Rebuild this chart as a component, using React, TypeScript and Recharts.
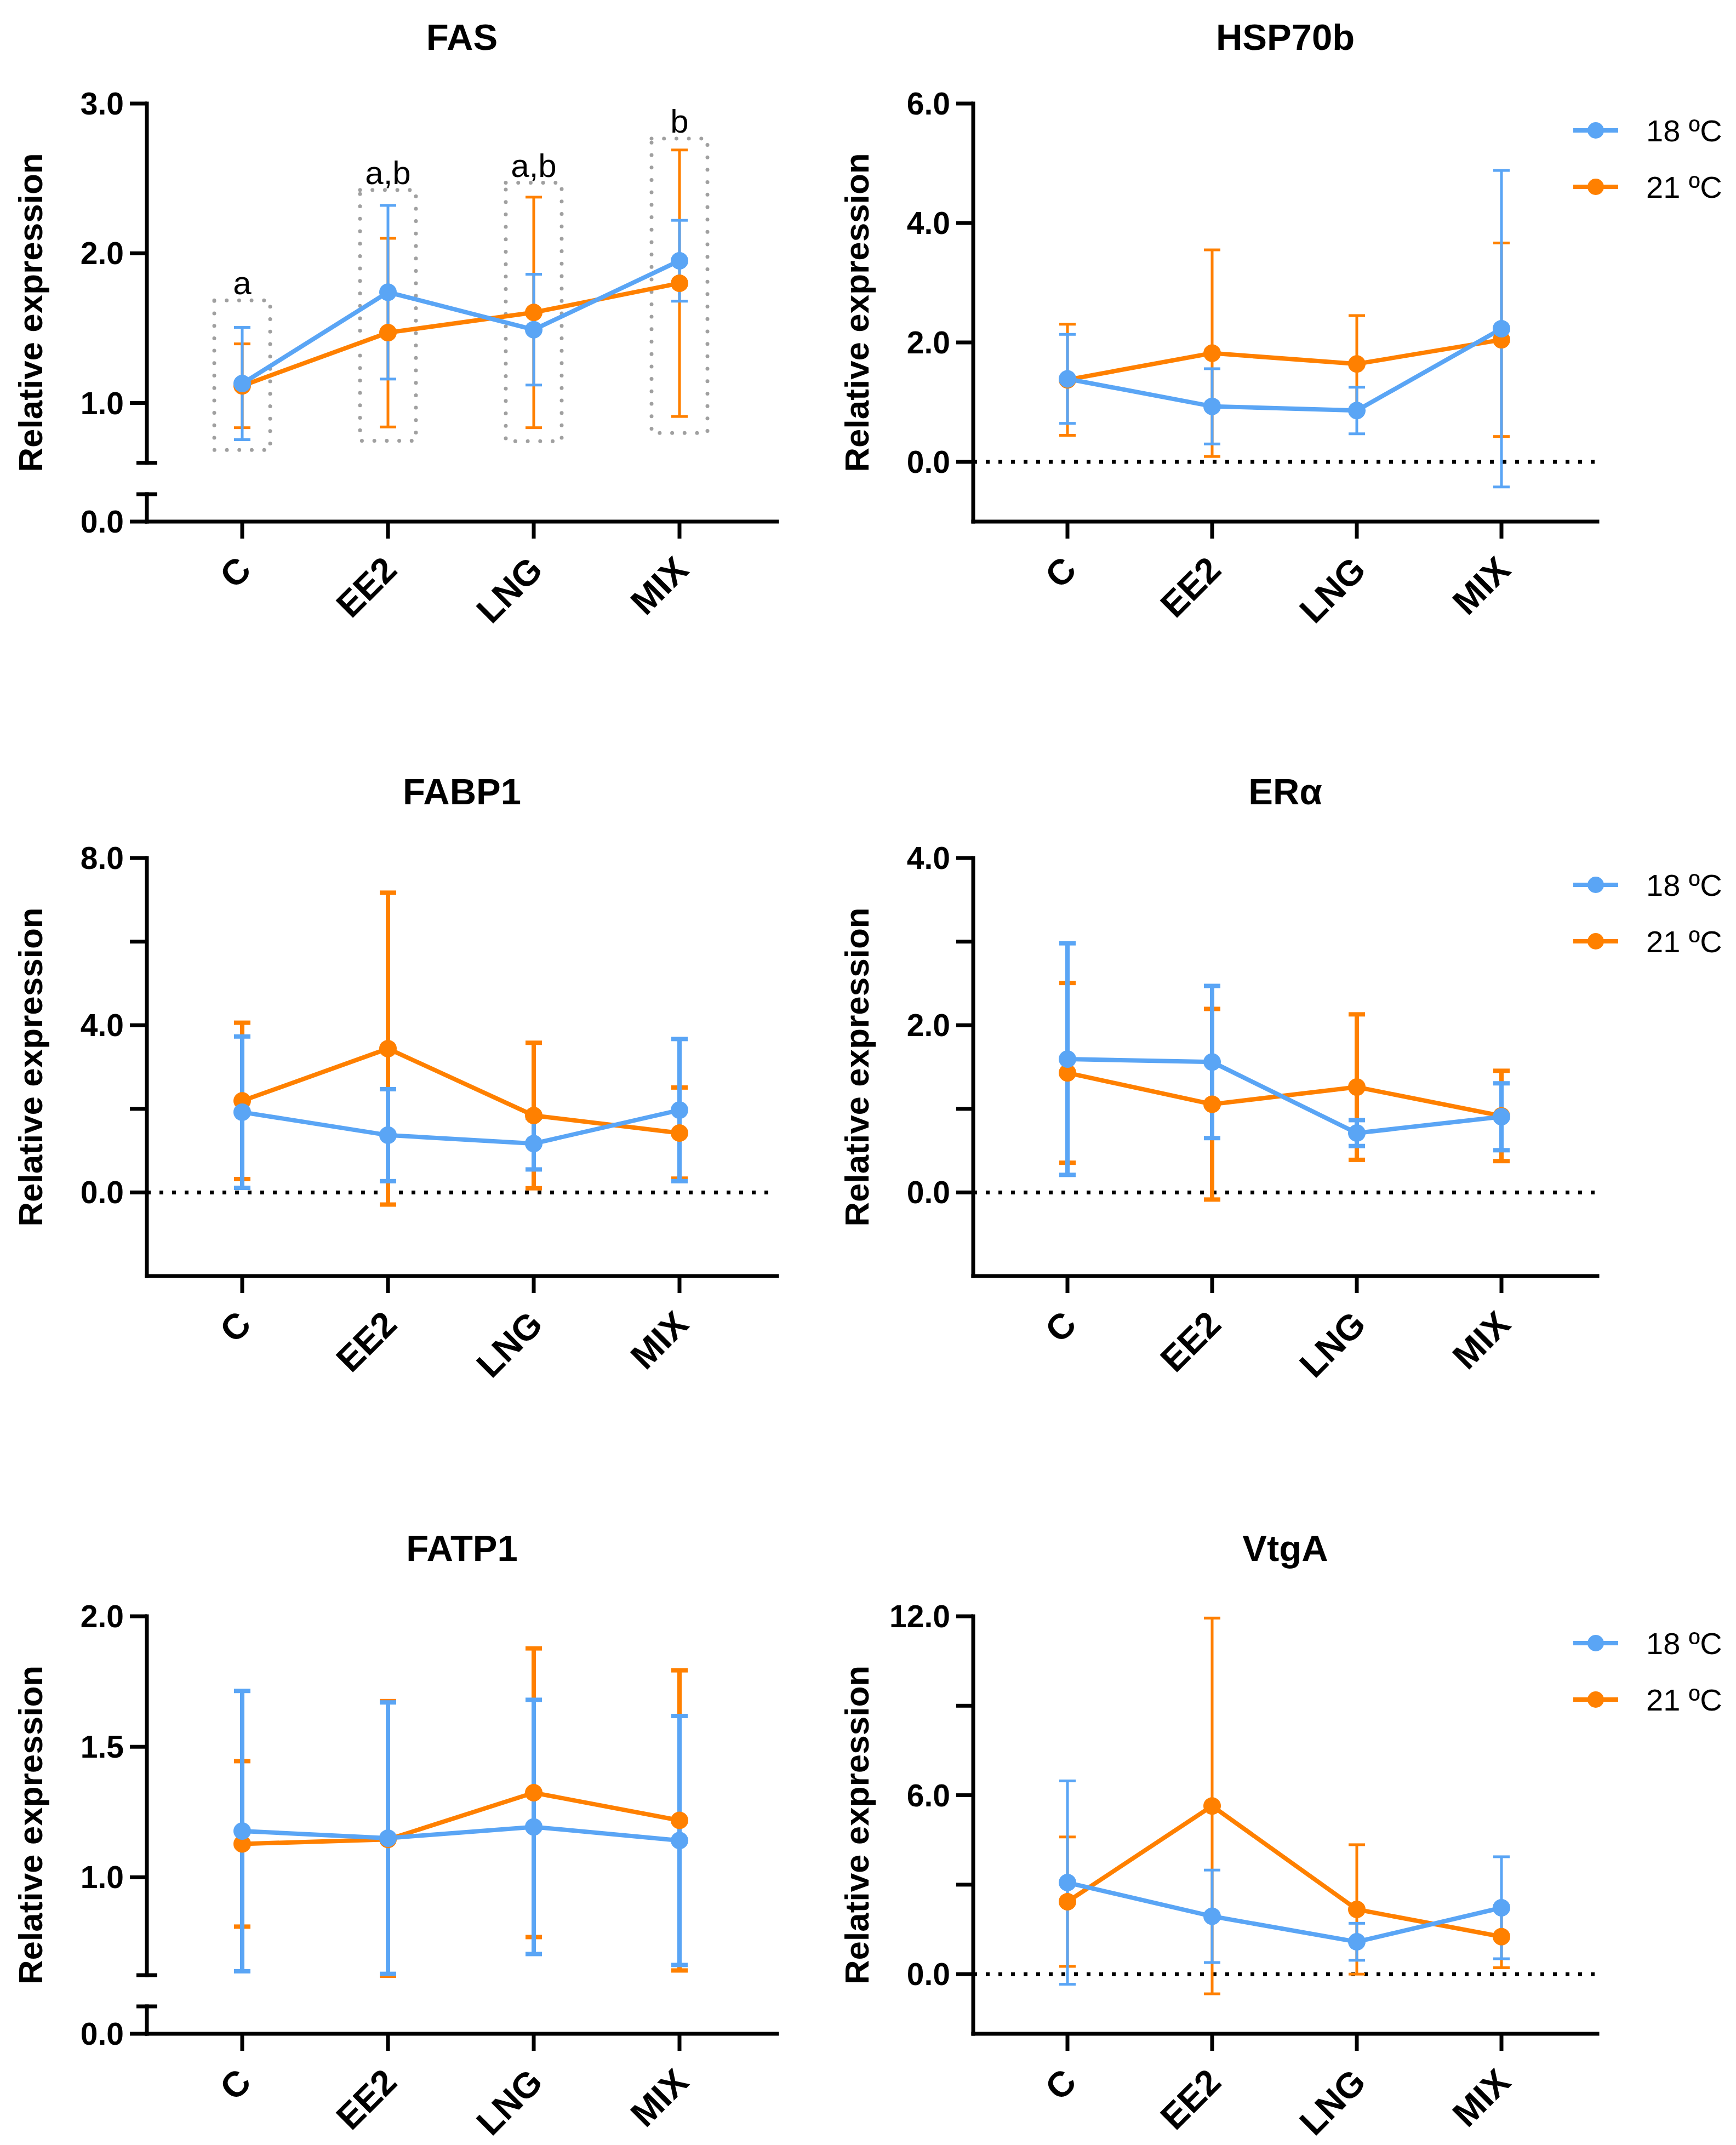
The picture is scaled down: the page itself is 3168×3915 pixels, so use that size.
import React from 'react';
import { LineChart, Line, XAxis, YAxis, ErrorBar, ReferenceLine, ReferenceArea, Legend } from 'recharts';

// ---------- data ----------
const categories = ['C', 'EE2', 'LNG', 'MIX'];
const seriesNames = ['18 ºC', '21 ºC'];

const fas18 = [1.13, 1.74, 1.49, 1.95];
const fas18Sd = [0.375, 0.58, 0.37, 0.27];
const fas21 = [1.115, 1.47, 1.605, 1.8];
const fas21Sd = [0.28, 0.63, 0.77, 0.89];
const fasLetters = ['a', 'a,b', 'a,b', 'b'];
const fasBoxLow = [0.686, 0.748, 0.745, 0.8];
const fasBoxHigh = [1.685, 2.423, 2.471, 2.766];

const hsp18 = [1.39, 0.93, 0.86, 2.23];
const hsp18Sd = [0.745, 0.63, 0.39, 2.65];
const hsp21 = [1.375, 1.82, 1.64, 2.045];
const hsp21Sd = [0.93, 1.73, 0.81, 1.62];

const fabp18 = [1.92, 1.37, 1.17, 1.97];
const fabp18Sd = [1.81, 1.1, 0.62, 1.7];
const fabp21 = [2.19, 3.44, 1.84, 1.42];
const fabp21Sd = [1.87, 3.73, 1.74, 1.09];

const era18 = [1.595, 1.56, 0.71, 0.905];
const era18Sd = [1.385, 0.91, 0.155, 0.4];
const era21 = [1.43, 1.055, 1.26, 0.915];
const era21Sd = [1.075, 1.14, 0.87, 0.54];

const fatp18 = [1.177, 1.15, 1.193, 1.141];
const fatp18Sd = [0.537, 0.52, 0.487, 0.477];
const fatp21 = [1.128, 1.145, 1.324, 1.218];
const fatp21Sd = [0.317, 0.53, 0.553, 0.575];

const vtg18 = [3.07, 1.94, 1.085, 2.226];
const vtg18Sd = [3.41, 1.55, 0.62, 1.71];
const vtg21 = [2.43, 5.64, 2.17, 1.256];
const vtg21Sd = [2.17, 6.3, 2.17, 1.04];

// ---------- style / layout ----------
const BLUE = '#5AA5F5';
const ORANGE = '#FF8000';
const FONT = '"Liberation Sans", Arial, sans-serif';
const AXIS_W = 7;
const TOP_M = 150;
const XAXIS_H = 250;
const BREAK_FRACS = [0, 0.0656, 0.1404, 1];

const COLS = [
  { x0: 0, w: 1500, axisX: 268, plotRight: 1418, padL: 174, padR: 178 },
  { x0: 1500, w: 1668, axisX: 1776, plotRight: 2915, padL: 172, padR: 175 },
];
const ROWS = [
  { plotTop: 189, plotBottom: 952, titleY: 68 },
  { plotTop: 1566, plotBottom: 2329, titleY: 1445 },
  { plotTop: 2950, plotBottom: 3712, titleY: 2826 },
];

const panels = [
  { title: 'FAS', col: 0, row: 0, s18: fas18, s18Sd: fas18Sd, s21: fas21, s21Sd: fas21Sd, domain: [0, 3], major: [0, 1, 2, 3], minor: [] as number[], knots: [0, 0.18, 0.6, 3], errW: 5, legend: false, zero: false, boxes: true },
  { title: 'HSP70b', col: 1, row: 0, s18: hsp18, s18Sd: hsp18Sd, s21: hsp21, s21Sd: hsp21Sd, domain: [-1, 6], major: [0, 2, 4, 6], minor: [] as number[], knots: null, errW: 5, legend: true, zero: true, boxes: false },
  { title: 'FABP1', col: 0, row: 1, s18: fabp18, s18Sd: fabp18Sd, s21: fabp21, s21Sd: fabp21Sd, domain: [-2, 8], major: [0, 4, 8], minor: [2, 6], knots: null, errW: 8, legend: false, zero: true, boxes: false },
  { title: 'ERα', col: 1, row: 1, s18: era18, s18Sd: era18Sd, s21: era21, s21Sd: era21Sd, domain: [-1, 4], major: [0, 2, 4], minor: [1, 3], knots: null, errW: 8, legend: true, zero: true, boxes: false },
  { title: 'FATP1', col: 0, row: 2, s18: fatp18, s18Sd: fatp18Sd, s21: fatp21, s21Sd: fatp21Sd, domain: [0, 2], major: [0, 1, 1.5, 2], minor: [] as number[], knots: [0, 0.105, 0.625, 2], errW: 8, legend: false, zero: false, boxes: false },
  { title: 'VtgA', col: 1, row: 2, s18: vtg18, s18Sd: vtg18Sd, s21: vtg21, s21Sd: vtg21Sd, domain: [-2, 12], major: [0, 6, 12], minor: [3, 9], knots: null, errW: 5, legend: true, zero: true, boxes: false },
];

// piecewise-linear (broken) axis scale
function brokenScale(knots: number[], fracs: number[]): any {
  let dom: number[] = [knots[0], knots[knots.length - 1]];
  let rng: number[] = [0, 1];
  const toFrac = (v: number) => {
    const n = knots.length;
    let i = 0;
    while (i < n - 2 && v > knots[i + 1]) i++;
    const t = (v - knots[i]) / (knots[i + 1] - knots[i]);
    return fracs[i] + t * (fracs[i + 1] - fracs[i]);
  };
  const s: any = (v: any) => rng[0] + toFrac(Number(v)) * (rng[1] - rng[0]);
  s.domain = (d?: any[]) => {
    if (d === undefined) return dom.slice();
    dom = d.map(Number);
    return s;
  };
  s.range = (r?: any[]) => {
    if (r === undefined) return rng.slice();
    rng = r.map(Number);
    return s;
  };
  s.copy = () => brokenScale(knots, fracs).domain(dom).range(rng);
  s.ticks = () => knots.slice();
  s.tickFormat = () => (v: any) => String(v);
  s.clamp = () => s;
  s.nice = () => s;
  s.invert = (px: number) => {
    const f = (px - rng[0]) / (rng[1] - rng[0]);
    let i = 0;
    while (i < fracs.length - 2 && f > fracs[i + 1]) i++;
    const t = (f - fracs[i]) / (fracs[i + 1] - fracs[i]);
    return knots[i] + t * (knots[i + 1] - knots[i]);
  };
  return s;
}

const LegendContent = (props: any) => {
  const items = [...(props.payload || [])].sort((a: any, b: any) => String(a.value).localeCompare(String(b.value)));
  return (
    <svg width={300} height={210} style={{ display: 'block' }}>
      {items.map((it: any, i: number) => {
        const cy = 51 + i * 103;
        return (
          <g key={String(it.value)}>
            <line x1={0} x2={82} y1={cy} y2={cy} stroke={it.color} strokeWidth={8} />
            <circle cx={41} cy={cy} r={15} fill={it.color} />
            <text x={133} y={cy} dominantBaseline="central" fontSize={56} fontFamily={FONT} fill="#000">
              {it.value}
            </text>
          </g>
        );
      })}
    </svg>
  );
};

function Panel({ p }: { p: any }) {
  const col = COLS[p.col];
  const row = ROWS[p.row];
  const plotH = row.plotBottom - row.plotTop;
  const yW = col.axisX - col.x0;
  const rightM = col.w - (col.plotRight - col.x0);
  const height = TOP_M + plotH + XAXIS_H;
  const axisY = TOP_M + plotH;

  const data = categories.map((c, i) => ({
    cat: c,
    s18: p.s18[i],
    s18Sd: p.s18Sd[i],
    s21: p.s21[i],
    s21Sd: p.s21Sd[i],
  }));

  const caps: number[] = p.knots ? [p.knots[1], p.knots[2]] : [];
  const allTicks = [...p.major, ...p.minor, ...caps];

  const yAxisLine: any = { stroke: '#000', strokeWidth: AXIS_W, strokeLinecap: 'square' };
  if (p.knots) {
    const up = (1 - BREAK_FRACS[2]) * plotH;
    const gap = (BREAK_FRACS[2] - BREAK_FRACS[1]) * plotH;
    const low = BREAK_FRACS[1] * plotH;
    yAxisLine.strokeDasharray = `${up} ${gap} ${low} ${plotH * 2}`;
  }

  const yTick = (tp: any) => {
    const y = tp.y;
    const v = Number(tp.payload.value);
    if (caps.includes(v)) {
      return <line x1={yW - 19} x2={yW + 19} y1={y} y2={y} stroke="#000" strokeWidth={AXIS_W} />;
    }
    const isMajor = p.major.includes(v);
    return (
      <g>
        <line x1={yW - 31} x2={yW} y1={y} y2={y} stroke="#000" strokeWidth={AXIS_W} />
        {isMajor && (
          <text x={yW - 42} y={y} textAnchor="end" dominantBaseline="central" fontSize={57} fontWeight="bold" fontFamily={FONT} fill="#000">
            {v.toFixed(1)}
          </text>
        )}
      </g>
    );
  };

  const xTick = (tp: any) => {
    const x = tp.x + 4;
    const ty = axisY + 76;
    return (
      <text x={x} y={ty} transform={`rotate(-45, ${x}, ${ty})`} textAnchor="end" dominantBaseline="central" fontSize={65} fontWeight="bold" fontFamily={FONT} fill="#000">
        {tp.payload.value}
      </text>
    );
  };

  const yLabel = () => {
    const lx = yW - 213;
    const ly = TOP_M + plotH / 2;
    return (
      <text x={lx} y={ly} transform={`rotate(-90, ${lx}, ${ly})`} textAnchor="middle" dominantBaseline="central" fontSize={62} fontWeight="bold" fontFamily={FONT} fill="#000">
        Relative expression
      </text>
    );
  };

  return (
    <div style={{ position: 'absolute', left: col.x0, top: row.plotTop - TOP_M }}>
      <LineChart width={col.w} height={height} data={data} margin={{ top: TOP_M, right: rightM, bottom: 0, left: 0 }}>
        <XAxis
          dataKey="cat"
          type="category"
          interval={0}
          padding={{ left: col.padL, right: col.padR }}
          height={XAXIS_H}
          tickSize={31}
          tickMargin={0}
          axisLine={{ stroke: '#000', strokeWidth: AXIS_W, strokeLinecap: 'square' }}
          tickLine={{ stroke: '#000', strokeWidth: AXIS_W }}
          tick={xTick}
        />
        <YAxis
          type="number"
          domain={p.domain}
          allowDataOverflow
          scale={p.knots ? brokenScale(p.knots, BREAK_FRACS) : 'linear'}
          ticks={allTicks}
          interval={0}
          width={yW}
          tickSize={31}
          tickMargin={11}
          tickLine={false}
          axisLine={yAxisLine}
          tick={yTick}
          label={yLabel}
        />
        {p.zero && <ReferenceLine y={0} stroke="#000" strokeWidth={7} strokeDasharray="7 16" />}
        {p.boxes &&
          categories.map((c, i) => (
            <ReferenceArea
              key={c}
              x1={c}
              x2={c}
              y1={fasBoxLow[i]}
              y2={fasBoxHigh[i]}
              ifOverflow="visible"
              shape={(sp: any) => (
                <rect x={sp.x - 51} y={sp.y} width={102} height={sp.height} fill="none" stroke="#A0A0A0" strokeWidth={7} strokeDasharray="0 22.7" strokeLinecap="round" />
              )}
              label={{ value: fasLetters[i], position: 'top', offset: 11, fontSize: 60, fill: '#000', fontFamily: FONT }}
            />
          ))}
        <Line
          dataKey="s21"
          name={seriesNames[1]}
          stroke={ORANGE}
          strokeWidth={8}
          dot={{ r: 16, fill: ORANGE, stroke: ORANGE, strokeWidth: 0 }}
          activeDot={false}
          isAnimationActive={false}
        >
          <ErrorBar dataKey="s21Sd" width={15} stroke={ORANGE} strokeWidth={p.errW} direction="y" isAnimationActive={false} />
        </Line>
        <Line
          dataKey="s18"
          name={seriesNames[0]}
          stroke={BLUE}
          strokeWidth={8}
          dot={{ r: 16, fill: BLUE, stroke: BLUE, strokeWidth: 0 }}
          activeDot={false}
          isAnimationActive={false}
        >
          <ErrorBar dataKey="s18Sd" width={15} stroke={BLUE} strokeWidth={p.errW} direction="y" isAnimationActive={false} />
        </Line>
        {p.legend && (
          <Legend
            layout="horizontal"
            align="center"
            verticalAlign="middle"
            wrapperStyle={{ left: 1371, top: TOP_M - 2, width: 300, height: 210 }}
            content={LegendContent}
          />
        )}
      </LineChart>
    </div>
  );
}

export default function App() {
  return (
    <div style={{ position: 'absolute', left: 0, top: 0, width: 3168, height: 3915, background: '#fff', fontFamily: FONT, overflow: 'hidden' }}>
      {panels.map((p) => {
        const col = COLS[p.col];
        const row = ROWS[p.row];
        const cx = (col.axisX + col.plotRight) / 2;
        return (
          <div
            key={p.title + '-t'}
            style={{ position: 'absolute', left: cx - 400, top: row.titleY - 40, width: 800, height: 80, lineHeight: '80px', textAlign: 'center', fontSize: 67, fontWeight: 'bold', fontFamily: FONT, color: '#000' }}
          >
            {p.title}
          </div>
        );
      })}
      {panels.map((p) => (
        <Panel key={p.title} p={p} />
      ))}
    </div>
  );
}
